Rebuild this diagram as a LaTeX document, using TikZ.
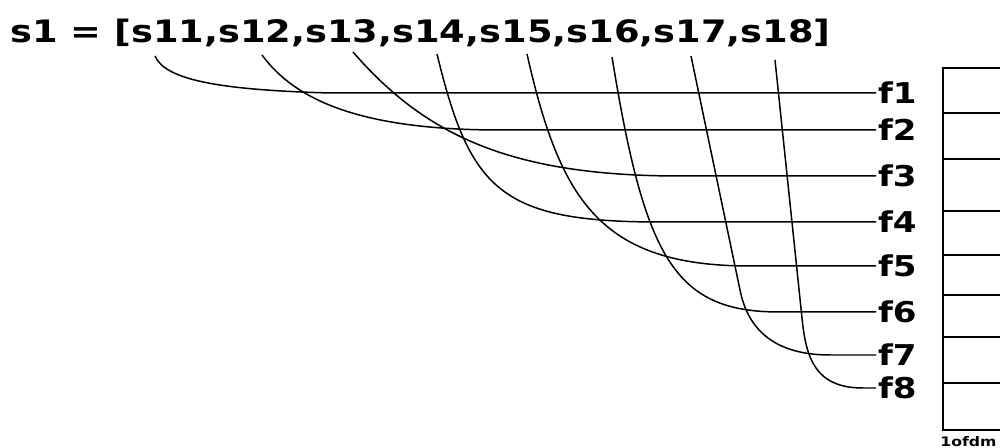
\documentclass[tikz,border=0pt]{standalone}
\usepackage{fontspec}
\newfontfamily\diagfont[FakeStretch=1.19]{DejaVu Sans}
\usepackage{tikz}
\usetikzlibrary{positioning, calc}

\begin{document}
\begin{tikzpicture}[x=0.02cm, y=-0.02cm,
    symlist/.style={anchor=base west, inner sep=0pt, font=\diagfont\bfseries\fontsize{17.6}{20}\selectfont},
    flabel/.style={anchor=west, inner sep=1pt, font=\diagfont\bfseries\fontsize{16.3}{18}\selectfont},
    curve/.style={line width=0.85pt, line join=round},
    slot/.style={line width=0.85pt}
]
\useasboundingbox (0,0) rectangle (1000,448);
% Symbol list
\node[symlist] (title) at (10,43) {s1 = [s11,s12,s13,s14,s15,s16,s17,s18]};
% Curve start points under each symbol
\coordinate (s11) at (155,56);
\coordinate (s12) at (262,55);
\coordinate (s13) at (353,52);
\coordinate (s14) at (437,54);
\coordinate (s15) at (527,54);
\coordinate (s16) at (612,57);
\coordinate (s17) at (691,56);
\coordinate (s18) at (775,60);
% Subcarriers
\node[flabel] (f1) at (876,93)  {f1};
\node[flabel] (f2) at (876,130) {f2};
\node[flabel] (f3) at (876,176) {f3};
\node[flabel] (f4) at (876,222) {f4};
\node[flabel] (f5) at (876,266) {f5};
\node[flabel] (f6) at (876,312) {f6};
\node[flabel] (f7) at (876,355) {f7};
\node[flabel] (f8) at (876,388) {f8};
% Symbol -> subcarrier mapping
\draw[curve] (s11) .. controls (165,80) and (220,90) .. (330,93) -- (f1.west);
\draw[curve] (s12) .. controls (295,100) and (360,130) .. (500,130) -- (f2.west);
\draw[curve] (s13) .. controls (425,135) and (510,176) .. (680,176) -- (f3.west);
\draw[curve] (s14) .. controls (470,190) and (500,222) .. (660,222) -- (f4.west);
\draw[curve] (s15) .. controls (560,200) and (600,266) .. (750,266) -- (f5.west);
\draw[curve] (s16) .. controls (645,260) and (675,312) .. (780,312) -- (f6.west);
\draw[curve] (s17) -- (740,290) .. controls (746,320) and (765,355) .. (830,355) -- (f7.west);
\draw[curve] (s18) -- (802,318) .. controls (806,358) and (815,388) .. (863,388) -- (f8.west);
% One OFDM symbol frame
\draw[slot] (1005,68) -- (943,68) -- (943,430) -- (1005,430);
\foreach \y in {113,159,211,255,295,337,383}
  \draw[slot] (943,\y) -- (1005,\y);
\node[anchor=base west, inner sep=0pt, font=\diagfont\bfseries\fontsize{7.5}{9}\selectfont] (ofdm) at (940,447) {1ofdm};
\end{tikzpicture}
\end{document}
